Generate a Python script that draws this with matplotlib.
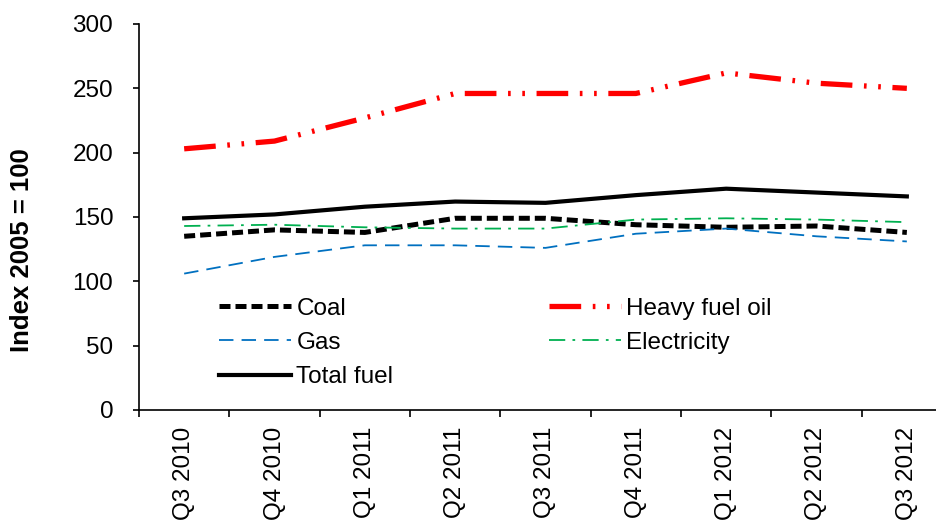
import matplotlib
matplotlib.use("Agg")
import matplotlib.pyplot as plt
import numpy as np

quarters = ["Q3 2010", "Q4 2010", "Q1 2011", "Q2 2011", "Q3 2011",
            "Q4 2011", "Q1 2012", "Q2 2012", "Q3 2012"]
coal = [135, 140, 138, 149, 149, 144, 142, 143, 138]
heavy_fuel_oil = [203, 209, 227, 246, 246, 246, 262, 254, 250]
gas = [106, 119, 128, 128, 126, 137, 141, 135, 131]
electricity = [143, 144, 142, 141, 141, 148, 149, 148, 146]
total_fuel = [149, 152, 158, 162, 161, 167, 172, 169, 166]

plt.rcParams['font.family'] = ['Liberation Sans', 'DejaVu Sans']

fig = plt.figure(figsize=(9.37, 5.22), dpi=100)
ax = fig.add_axes([139/937, 1-410/522, 813/937, 386/522])

x = np.arange(len(quarters))
l_coal, = ax.plot(x, coal, color='black', lw=3.6, linestyle=(0, (2.2, 1.0)), label='Coal')
l_hfo, = ax.plot(x, heavy_fuel_oil, color='#FF0000', lw=3.8,
                 linestyle=(0, (6, 2.2, 0.5, 2.2, 0.5, 2.2)), label='Heavy fuel oil')
l_gas, = ax.plot(x, gas, color='#0070C0', lw=1.3, linestyle=(0, (8, 4.5)), label='Gas')
l_el, = ax.plot(x, electricity, color='#00B050', lw=1.3,
                linestyle=(0, (9, 4, 1.5, 4)), label='Electricity')
l_tot, = ax.plot(x, total_fuel, color='black', lw=3, label='Total fuel')

ax.set_xlim(-0.5, 8.5)
ax.set_ylim(0, 300)
ax.set_yticks(np.arange(0, 301, 50))
ax.set_xticks(x)
ax.set_xticklabels(quarters, rotation=90, fontsize=17.5)
ax.set_xticks(np.arange(-0.5, 8.6, 1), minor=True)
ax.tick_params(axis='x', which='major', length=0, pad=12)
ax.tick_params(axis='x', which='minor', length=5, width=1.2, direction='out')
ax.tick_params(axis='y', labelsize=17.5, length=4.5, width=1.2, direction='out', pad=14)

for s in ['top', 'right']:
    ax.spines[s].set_visible(False)
for s in ['left', 'bottom']:
    ax.spines[s].set_linewidth(1.2)

ax.set_ylabel('Index 2005 = 100', fontsize=18.5, fontweight='bold')
ax.yaxis.set_label_coords(-0.129, 0.415)

leg = ax.legend(handles=[l_coal, l_gas, l_tot, l_hfo, l_el], ncol=2, frameon=False,
                loc='upper left', bbox_to_anchor=(0.087, 0.316), fontsize=17.5,
                handlelength=2.96, handletextpad=0.2, columnspacing=6.4,
                labelspacing=0.5, borderaxespad=0)

fig.savefig('out.png', dpi=100)
